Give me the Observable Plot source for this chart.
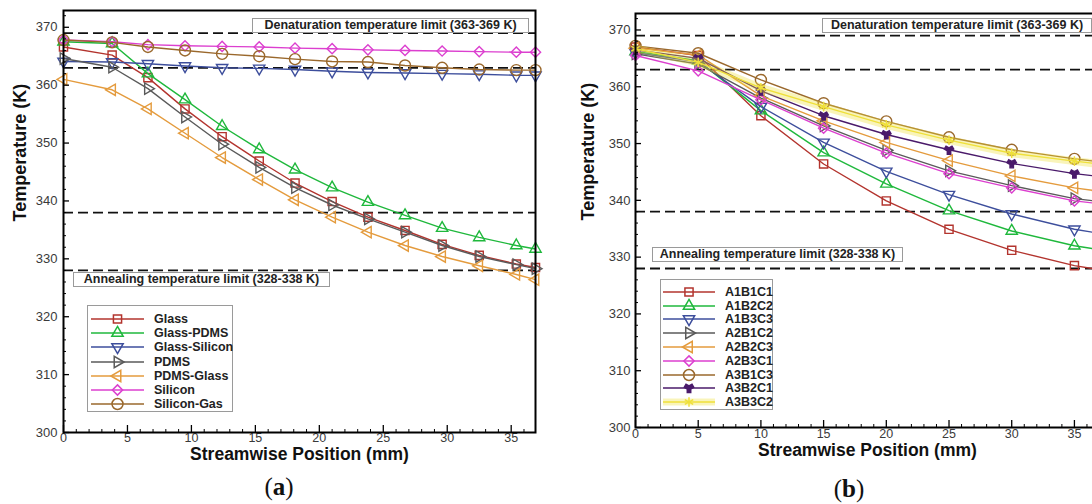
<!DOCTYPE html>
<html><head><meta charset="utf-8">
<script src="https://cdn.jsdelivr.net/npm/d3@7"></script>
<script src="https://cdn.jsdelivr.net/npm/@observablehq/plot@0.6"></script>
<style>
body{margin:0;background:#fff;}
#wrap{position:relative;width:1092px;height:504px;overflow:hidden;background:#fff;font-family:"Liberation Sans",Arial,sans-serif;}
.panel{position:absolute;top:0;}
.note{position:absolute;border:1px solid #9a9a9a;background:#fff;font-weight:bold;font-size:12.5px;line-height:13px;color:#222;text-align:center;white-space:nowrap;box-sizing:border-box;}
.legend{position:absolute;border:1px solid #9a9a9a;background:#fff;box-sizing:border-box;}
.lrow{position:absolute;font-weight:bold;font-size:12.5px;color:#222;white-space:nowrap;line-height:14px;}
.cap{position:absolute;font-family:"Liberation Serif","DejaVu Serif",serif;font-size:25px;transform:translate(-50%,-50%);color:#111;}
</style></head>
<body>
<div id="wrap"></div>
<script>
// ---------- data: panel (a) ----------
const xA = [0, 3.8, 6.6, 9.5, 12.4, 15.3, 18.1, 21.0, 23.8, 26.7, 29.6, 32.5, 35.4, 36.9];
const glass        = [366.6, 365.2, 361.3, 355.9, 351.1, 346.9, 343.1, 339.9, 337.2, 334.9, 332.5, 330.6, 329.1, 328.5];
const glassPDMS    = [367.5, 367.2, 362.0, 357.5, 352.9, 348.9, 345.4, 342.3, 339.8, 337.5, 335.3, 333.7, 332.3, 331.7];
const glassSilicon = [364.1, 364.0, 363.7, 363.3, 363.0, 362.9, 362.7, 362.4, 362.2, 362.1, 362.0, 361.9, 361.7, 361.7];
const pdms         = [364.6, 363.1, 359.4, 354.5, 349.8, 345.8, 342.3, 339.3, 336.9, 334.6, 332.3, 330.4, 329.0, 328.3];
const pdmsGlass    = [361.0, 359.2, 355.9, 351.7, 347.5, 343.7, 340.2, 337.2, 334.6, 332.3, 330.4, 328.8, 327.3, 326.4];
const silicon      = [367.8, 367.5, 367.0, 366.8, 366.7, 366.6, 366.4, 366.3, 366.1, 366.0, 365.9, 365.8, 365.7, 365.7];
const siliconGas   = [367.8, 367.4, 366.6, 366.0, 365.4, 365.0, 364.5, 364.1, 364.0, 363.4, 363.0, 362.7, 362.6, 362.6];
const namesA = ["Glass", "Glass-PDMS", "Glass-Silicon", "PDMS", "PDMS-Glass", "Silicon", "Silicon-Gas"];

// ---------- data: panel (b) ----------
const xB = [0, 5, 10, 15, 20, 25, 30, 35, 37];
const A1B1C1 = [367.0, 365.5, 354.9, 346.4, 339.9, 334.9, 331.2, 328.5, 327.8];
const A1B2C2 = [366.2, 364.6, 355.8, 348.4, 342.9, 338.2, 334.6, 332.0, 331.3];
const A1B3C3 = [366.0, 364.4, 356.5, 350.2, 345.1, 341.0, 337.6, 334.9, 334.2];
const A2B1C2 = [365.8, 364.0, 358.0, 353.1, 348.8, 345.2, 342.6, 340.3, 339.8];
const A2B2C3 = [366.8, 365.6, 358.4, 354.0, 350.2, 347.0, 344.3, 342.2, 341.6];
const A2B3C1 = [365.5, 362.8, 357.7, 352.7, 348.3, 344.7, 342.2, 339.9, 339.4];
const A3B1C3 = [367.2, 365.9, 361.2, 357.1, 353.9, 351.1, 348.9, 347.3, 346.8];
const A3B2C1 = [366.5, 365.0, 359.3, 354.9, 351.6, 348.9, 346.5, 344.7, 344.2];
const A3B3C2 = [366.7, 364.3, 359.8, 356.5, 353.3, 350.6, 348.3, 346.9, 346.4];
const namesB = ["A1B1C1", "A1B2C2", "A1B3C3", "A2B1C2", "A2B2C3", "A2B3C1", "A3B1C3", "A3B2C1", "A3B3C2"];

// limits and ticks
const limits = [328, 338, 363, 369];
const yMajor = [300, 310, 320, 330, 340, 350, 360, 370];
const yMinor = d3.range(302, 373, 2).filter(v => v % 10 !== 0);
const xMajor = [0, 5, 10, 15, 20, 25, 30, 35];
const xMinor = d3.range(1, 37, 1).filter(v => v % 5 !== 0);
const noteTop = "Denaturation temperature limit (363-369 K)";
const noteBottom = "Annealing temperature limit (328-338 K)";
const xTitle = "Streamwise Position (mm)";
const yTitle = "Temperature (K)";

// ---------- symbols ----------
const S3 = Math.sqrt(3);
function tri(dir) {
  return {draw(ctx, size) {
    const s = Math.sqrt(size / (S3 * 3));
    let p;
    if (dir === "down") p = [[0, 2*s], [S3*s, -s], [-S3*s, -s]];
    else if (dir === "right") p = [[2*s, 0], [-s, S3*s], [-s, -S3*s]];
    else if (dir === "left") p = [[-2*s, 0], [s, S3*s], [s, -S3*s]];
    else p = [[0, -2*s], [S3*s, s], [-S3*s, s]];
    ctx.moveTo(p[0][0], p[0][1]); ctx.lineTo(p[1][0], p[1][1]); ctx.lineTo(p[2][0], p[2][1]); ctx.closePath();
  }};
}
const symUp = tri("up"), symDown = tri("down"), symRight = tri("right"), symLeft = tri("left");

const colors = {red:"#b3342e", green:"#1fb83c", blue:"#3d4e9c", grey:"#5a5a5a", orange:"#e49b3d",
  magenta:"#dc3fcf", brown:"#9a682c", purple:"#4a1a6a", yellow:"#efe03a"};

const TR = 4.2;
const seriesA = [
  {name: namesA[0], values: glass, color: colors.red, symbol: d3.symbolSquare},
  {name: namesA[1], values: glassPDMS, color: colors.green, symbol: symUp, r: TR},
  {name: namesA[2], values: glassSilicon, color: colors.blue, symbol: symDown, r: TR},
  {name: namesA[3], values: pdms, color: colors.grey, symbol: symRight, r: TR},
  {name: namesA[4], values: pdmsGlass, color: colors.orange, symbol: symLeft, r: TR},
  {name: namesA[5], values: silicon, color: colors.magenta, symbol: d3.symbolDiamond2},
  {name: namesA[6], values: siliconGas, color: colors.brown, symbol: d3.symbolCircle, r: 5.5}
];
const seriesB = [
  {name: namesB[0], values: A1B1C1, color: colors.red, symbol: d3.symbolSquare},
  {name: namesB[1], values: A1B2C2, color: colors.green, symbol: symUp, r: TR},
  {name: namesB[2], values: A1B3C3, color: colors.blue, symbol: symDown, r: TR},
  {name: namesB[3], values: A2B1C2, color: colors.grey, symbol: symRight, r: TR},
  {name: namesB[4], values: A2B2C3, color: colors.orange, symbol: symLeft, r: TR},
  {name: namesB[5], values: A2B3C1, color: colors.magenta, symbol: d3.symbolDiamond2},
  {name: namesB[6], values: A3B1C3, color: colors.brown, symbol: d3.symbolCircle, r: 5.5},
  {name: namesB[7], values: A3B2C1, color: colors.purple, symbol: d3.symbolWye, fill: colors.purple, r: 3.6},
  {name: namesB[8], values: A3B3C2, color: colors.yellow, symbol: d3.symbolAsterisk, glow: true}
];

function panel(o) {
  const marks = [];
  marks.push(Plot.ruleY(limits, {stroke: "#111", strokeWidth: 1.8, strokeDasharray: "10,5"}));
  for (const s of o.series) {
    const data = o.xs.map((x, i) => ({x, y: s.values[i]}));
    if (s.glow) marks.push(Plot.line(data, {x: "x", y: "y", stroke: s.color, strokeWidth: 8, strokeOpacity: 0.35}));
    marks.push(Plot.line(data, {x: "x", y: "y", stroke: s.color, strokeWidth: 1.4}));
    marks.push(Plot.dot(data, {x: "x", y: "y", symbol: s.symbol, r: s.r || 4.6, stroke: s.color,
      strokeWidth: 1.4, fill: s.fill || "none"}));
  }
  const blank = () => "";
  marks.push(Plot.axisY(yMajor, {tickSize: 6, dx: 6, tickFormat: blank, label: null, stroke: "#000", strokeWidth: 1.3}));
  marks.push(Plot.axisY(yMinor, {tickSize: 3, dx: 3, tickFormat: blank, label: null, stroke: "#000", strokeWidth: 1}));
  marks.push(Plot.axisY(yMajor, {tickSize: 0, tickPadding: o.yPad, label: null, fontSize: 13, color: "#3a3a3a"}));
  marks.push(Plot.axisX(xMajor, {tickSize: 7, dy: -7, tickFormat: blank, label: null, stroke: "#000", strokeWidth: 1.3}));
  marks.push(Plot.axisX(xMinor, {tickSize: 3, dy: -3, tickFormat: blank, label: null, stroke: "#000", strokeWidth: 1}));
  marks.push(Plot.axisX(xMajor, {tickSize: 0, tickPadding: o.xPad, label: null, fontSize: 12.5, color: "#3a3a3a"}));
  marks.push(Plot.frame({stroke: "#000", strokeWidth: 2}));
  marks.push(Plot.text([yTitle], {text: d => d, frameAnchor: "left", dx: o.yLabelDx, rotate: -90,
    fontWeight: "bold", fontSize: 18, fill: "#111"}));
  marks.push(Plot.text([xTitle], {text: d => d, frameAnchor: "bottom", dy: o.xLabelDy,
    fontWeight: "bold", fontSize: 17.5, fill: "#111"}));
  return Plot.plot({
    width: o.width, height: o.height,
    marginLeft: o.mL, marginRight: o.mR, marginTop: o.mT, marginBottom: o.mB,
    x: {domain: o.xDomain}, y: {domain: [300, 372.9]},
    style: {fontFamily: "'Liberation Sans', Arial, sans-serif", background: "transparent", overflow: "visible", maxWidth: "none"},
    marks
  });
}

const wrap = document.getElementById("wrap");
function place(node, left, width) {
  const d = document.createElement("div");
  d.className = "panel"; d.style.left = left + "px"; d.style.width = width + "px";
  d.appendChild(node); wrap.appendChild(d);
}
place(panel({xs: xA, series: seriesA, xDomain: [0, 36.9], width: 545, height: 470, mL: 63, mR: 10, mT: 10, mB: 38,
  yPad: 6, xPad: 1, yLabelDx: -43, xLabelDy: 27}), 0, 545);
place(panel({xs: xB, series: seriesB, xDomain: [0, 37], width: 550, height: 470, mL: 75, mR: 11, mT: 13, mB: 43,
  yPad: 5, xPad: 2, yLabelDx: -47, xLabelDy: 28}), 560, 550);

function note(text, left, top, width, height) {
  const d = document.createElement("div");
  d.className = "note"; d.textContent = text;
  Object.assign(d.style, {left: left + "px", top: top + "px", width: width + "px", height: height + "px", lineHeight: (height - 2) + "px"});
  wrap.appendChild(d);
}
note(noteTop, 252, 18, 277, 15);
note(noteBottom, 73, 272, 257, 15);
note(noteTop, 822, 18, 270, 15);
note(noteBottom, 652, 247, 251, 15);

function legend(series, box, rows) {
  const b = document.createElement("div");
  b.className = "legend";
  Object.assign(b.style, {left: box.left + "px", top: box.top + "px", width: box.w + "px", height: box.h + "px"});
  wrap.appendChild(b);
  series.forEach((s, i) => {
    const cy = rows.y0 + rows.dy * i;
    const svg = d3.create("svg").attr("width", rows.x1 - rows.x0 + 16).attr("height", 16)
      .style("position", "absolute").style("left", (rows.x0 - 8) + "px").style("top", (cy - 8) + "px").style("overflow", "visible");
    const L = rows.x1 - rows.x0;
    if (s.glow) svg.append("line").attr("x1", 8).attr("x2", 8 + L).attr("y1", 8).attr("y2", 8)
      .attr("stroke", s.color).attr("stroke-width", 7).attr("stroke-opacity", 0.35);
    svg.append("line").attr("x1", 8).attr("x2", 8 + L).attr("y1", 8).attr("y2", 8)
      .attr("stroke", s.color).attr("stroke-width", 1.6);
    const r = s.r || 4.6;
    svg.append("path").attr("transform", `translate(${8 + L / 2},8)`)
      .attr("d", d3.symbol(s.symbol, Math.PI * r * r)())
      .attr("fill", s.fill || "none").attr("stroke", s.color).attr("stroke-width", 1.5);
    wrap.appendChild(svg.node());
    const t = document.createElement("div");
    t.className = "lrow"; t.textContent = s.name;
    Object.assign(t.style, {left: rows.tx + "px", top: (cy - 7) + "px"});
    wrap.appendChild(t);
  });
}
legend(seriesA, {left: 87, top: 305, w: 146, h: 107}, {y0: 319, dy: 14.2, x0: 91, x1: 144, tx: 154});
legend(seriesB, {left: 660, top: 279, w: 113, h: 131}, {y0: 291.7, dy: 13.8, x0: 663, x1: 715, tx: 725});

function caption(letter, cx, cy) {
  const c = document.createElement("div");
  c.className = "cap";
  c.innerHTML = `(<b>${letter}</b>)`;
  Object.assign(c.style, {left: cx + "px", top: cy + "px"});
  wrap.appendChild(c);
}
caption("a", 279, 487);
caption("b", 849, 489);
</script>
</body></html>
